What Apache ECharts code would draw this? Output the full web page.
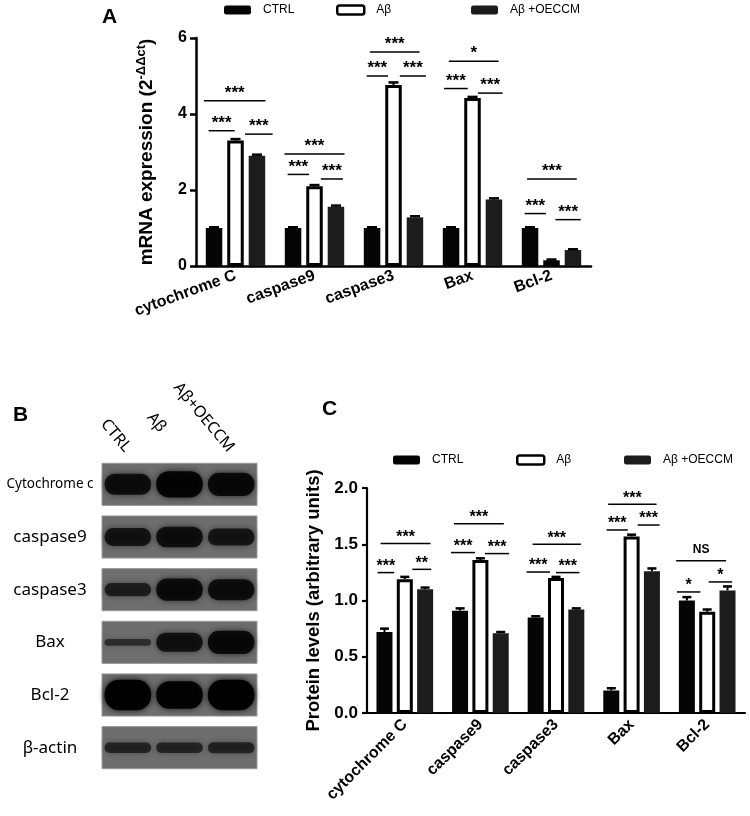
<!DOCTYPE html>
<html>
<head>
<meta charset="utf-8">
<script src="https://cdn.jsdelivr.net/npm/echarts@6/dist/echarts.min.js"></script>
<style>
  html, body { margin: 0; padding: 0; background: #fff; }
  #main { width: 750px; height: 816px; }
</style>
</head>
<body>
<div id="main"></div>
<script>
// categories
const genes = ['cytochrome C', 'caspase9', 'caspase3', 'Bax', 'Bcl-2']
const groups = ['CTRL', 'Aβ', 'Aβ +OECCM']

// panel A - mRNA expression (2^-ΔΔct)
const mrnaCtrl = [1.0, 1.0, 1.0, 1.0, 1.0]
const mrnaAb = [3.30, 2.10, 4.76, 4.42, 0.15]
const mrnaOeccm = [2.90, 1.56, 1.28, 1.75, 0.42]
const mrnaErrCtrl = [0.02, 0.02, 0.02, 0.02, 0.02]
const mrnaErrAb = [0.04, 0.03, 0.07, 0.03, 0.02]
const mrnaErrOeccm = [0.03, 0.03, 0.03, 0.03, 0.02]

// significance lines of panel A: [from, to, height] in category units / axis units
const sigA = [
  [0.10, 0.88, 4.35], [0.16, 0.49, 3.56], [0.62, 0.97, 3.47],
  [1.12, 1.88, 2.95], [1.16, 1.43, 2.41], [1.58, 1.86, 2.29],
  [2.20, 2.83, 5.63], [2.16, 2.43, 5.00], [2.58, 2.91, 5.00],
  [3.20, 3.83, 5.39], [3.14, 3.44, 4.67], [3.57, 3.88, 4.55],
  [4.19, 4.82, 2.29], [4.16, 4.43, 1.38], [4.55, 4.87, 1.22]
]
const sigALabels = [
  '***', '***', '***',
  '***', '***', '***',
  '***', '***', '***',
  '*', '***', '***',
  '***', '***', '***'
]

// panel B - western blot
const lanes = ['CTRL', 'Aβ', 'Aβ+OECCM']
const proteins = ['Cytochrome c', 'caspase9', 'caspase3', 'Bax', 'Bcl-2', 'β-actin']
const bandLevels = [
  [0.60, 0.80, 0.68],
  [0.48, 0.58, 0.45],
  [0.30, 0.65, 0.60],
  [0.06, 0.52, 0.68],
  [0.95, 0.85, 0.95],
  [0.20, 0.20, 0.22]
]

// panel C - protein levels
const protCtrl = [0.72, 0.91, 0.85, 0.20, 1.00]
const protAb = [1.19, 1.36, 1.20, 1.57, 0.90]
const protOeccm = [1.10, 0.71, 0.92, 1.26, 1.09]
const protErrCtrl = [0.03, 0.02, 0.01, 0.02, 0.03]
const protErrAb = [0.02, 0.015, 0.01, 0.015, 0.02]
const protErrOeccm = [0.015, 0.01, 0.01, 0.025, 0.035]

const sigC = [
  [0.18, 0.84, 1.506], [0.14, 0.36, 1.248], [0.60, 0.85, 1.277],
  [1.15, 1.81, 1.683], [1.11, 1.43, 1.426], [1.56, 1.88, 1.417],
  [2.19, 2.83, 1.500], [2.11, 2.42, 1.253], [2.50, 2.81, 1.248],
  [3.19, 3.83, 1.855], [3.17, 3.45, 1.627], [3.58, 3.87, 1.671],
  [4.09, 4.75, 1.354], [4.10, 4.41, 1.076], [4.52, 4.83, 1.165]
]
const sigCLabels = [
  '***', '***', '**',
  '***', '***', '***',
  '***', '***', '***',
  '***', '***', '***',
  'NS', '*', '*'
]

const FONT = 'Liberation Sans, Arial, sans-serif'
const BLOTFONT = 'Noto Sans, Open Sans, sans-serif'

const barColors = ['#050505', '#ffffff', '#1c1c1c']

function barSeries(name, xi, yi, data, colorIdx, width, gap) {
  const s = {
    name: name,
    type: 'bar',
    xAxisIndex: xi,
    yAxisIndex: yi,
    data: data,
    barWidth: width,
    barGap: gap,
    z: 3,
    itemStyle: { color: barColors[colorIdx] }
  }
  if (colorIdx === 1) {
    s.itemStyle.borderColor = '#000'
    s.itemStyle.borderWidth = 3
  }
  return s
}

function errSeries(xi, yi, vals, errs, offsetPx, capW) {
  return {
    type: 'custom',
    xAxisIndex: xi,
    yAxisIndex: yi,
    silent: true,
    z: 4,
    data: vals.map((v, i) => [i, v, errs[i]]),
    renderItem(params, api) {
      const b = api.coord([api.value(0), api.value(1)])
      const t = api.coord([api.value(0), api.value(1) + api.value(2)])
      const x = b[0] + offsetPx
      return {
        type: 'group',
        children: [
          { type: 'line', shape: { x1: x, y1: b[1], x2: x, y2: t[1] }, style: { stroke: '#000', lineWidth: 2 } },
          { type: 'line', shape: { x1: x - capW / 2, y1: t[1], x2: x + capW / 2, y2: t[1] }, style: { stroke: '#000', lineWidth: 2.5 } }
        ]
      }
    }
  }
}

function sigSeries(xi, yi, lines, labels, fontSize, lift) {
  return {
    type: 'custom',
    xAxisIndex: xi,
    yAxisIndex: yi,
    silent: true,
    z: 6,
    data: lines,
    encode: { x: [0, 1], y: 2 },
    renderItem(params, api) {
      const p1 = api.coord([api.value(0), api.value(2)])
      const p2 = api.coord([api.value(1), api.value(2)])
      const txt = labels[params.dataIndex]
      const isNS = txt === 'NS'
      return {
        type: 'group',
        children: [
          { type: 'line', shape: { x1: p1[0], y1: p1[1], x2: p2[0], y2: p1[1] }, style: { stroke: '#000', lineWidth: 1.5 } },
          {
            type: 'text',
            style: {
              text: txt,
              x: (p1[0] + p2[0]) / 2,
              y: p1[1] - (isNS ? 5 : lift),
              align: 'center',
              verticalAlign: 'bottom',
              font: (isNS ? 'bold 12px ' + FONT : 'bold ' + fontSize + 'px ' + FONT),
              fill: '#000'
            }
          }
        ]
      }
    }
  }
}

const blotBoxes = {
  type: 'custom',
  xAxisIndex: 2,
  yAxisIndex: 1,
  silent: true,
  z: 1,
  data: proteins.map((p, r) => [0, r]),
  renderItem(params, api) {
    const cs = params.coordSys
    const cy = api.coord([0, api.value(1)])[1]
    const h = api.size([0, 1])[1] * 0.8
    return {
      type: 'rect',
      shape: { x: cs.x, y: cy - h / 2, width: cs.width, height: h },
      style: { fill: '#6e6e6e', stroke: '#9a9a9a', lineWidth: 1 }
    }
  }
}

const bandData = []
bandLevels.forEach((row, r) => row.forEach((lv, l) => bandData.push([l, r, lv])))

const blotBands = {
  type: 'custom',
  xAxisIndex: 2,
  yAxisIndex: 1,
  silent: true,
  z: 2,
  data: bandData,
  renderItem(params, api) {
    const c = api.coord([api.value(0), api.value(1)])
    const lw = api.size([1, 0])[0]
    const rh = api.size([0, 1])[1]
    const lv = api.value(2)
    const hw = lw * 0.45
    const hh = rh * (0.05 + 0.25 * lv)
    return {
      type: 'rect',
      shape: { x: c[0] - hw, y: c[1] - hh, width: hw * 2, height: hh * 2, r: hh * 0.95 },
      style: {
        fill: 'rgba(0,0,0,' + (0.5 + 0.5 * lv) + ')',
        shadowBlur: 6,
        shadowColor: 'rgba(0,0,0,' + (0.4 + 0.5 * lv) + ')'
      }
    }
  }
}

function legendItem(name, left, top) {
  const idx = groups.indexOf(name)
  const style = { color: barColors[idx] }
  if (idx === 1) { style.borderColor = '#000'; style.borderWidth = 2.5 }
  return {
    data: [{ name: name, itemStyle: style }],
    left: left,
    top: top,
    padding: 0,
    icon: 'roundRect',
    itemWidth: 27,
    itemHeight: 9,
    selectedMode: false,
    textStyle: { fontFamily: FONT, fontSize: 12, color: '#000', padding: [0, 0, 0, 7] }
  }
}

const chart = echarts.init(document.getElementById('main'))
chart.setOption({
  backgroundColor: '#fff',
  animation: false,
  title: [
    { text: 'A', left: 97, top: 2, textStyle: { fontFamily: FONT, fontWeight: 'bold', fontSize: 21, color: '#000' } },
    { text: 'B', left: 8, top: 400, textStyle: { fontFamily: FONT, fontWeight: 'bold', fontSize: 21, color: '#000' } },
    { text: 'C', left: 317, top: 394, textStyle: { fontFamily: FONT, fontWeight: 'bold', fontSize: 21, color: '#000' } }
  ],
  legend: [
    legendItem('CTRL', 224, 4),
    legendItem('Aβ', 336, 4),
    legendItem('Aβ +OECCM', 471, 4),
    legendItem('CTRL', 393, 454),
    legendItem('Aβ', 516, 454),
    legendItem('Aβ +OECCM', 624, 454)
  ],
  grid: [
    { left: 196, right: 159, top: 38, bottom: 550 },
    { left: 102, right: 493, top: 458, bottom: 42 },
    { left: 367, right: 5, top: 488, bottom: 103 }
  ],
  xAxis: [
    {
      type: 'category', gridIndex: 0, data: genes,
      axisLine: { lineStyle: { color: '#000', width: 2.5 } },
      axisTick: { alignWithLabel: true, length: 6, lineStyle: { color: '#000', width: 2.5 } },
      axisLabel: { rotate: 20, margin: 9, color: '#000', fontFamily: FONT, fontWeight: 'bold', fontSize: 16, interval: 0 }
    },
    { type: 'value', gridIndex: 0, min: 0, max: 5, show: false },
    {
      type: 'category', gridIndex: 1, data: lanes, position: 'top',
      axisLine: { show: false }, axisTick: { show: false },
      axisLabel: {
        rotate: 50, margin: 8, color: '#000', fontFamily: BLOTFONT, fontSize: 16, interval: 0,
        formatter: v => (v === 'Aβ' ? '{up|' + v + '}' : v),
        rich: { up: { fontFamily: BLOTFONT, fontSize: 16, color: '#000', padding: [0, 26, 0, 0] } }
      }
    },
    {
      type: 'category', gridIndex: 2, data: genes,
      axisLine: { lineStyle: { color: '#000', width: 2.2 } },
      axisTick: { alignWithLabel: true, length: 6, lineStyle: { color: '#000', width: 2.2 } },
      axisLabel: { rotate: 45, margin: 9, color: '#000', fontFamily: FONT, fontWeight: 'bold', fontSize: 16, interval: 0 }
    },
    { type: 'value', gridIndex: 2, min: 0, max: 5, show: false }
  ],
  yAxis: [
    {
      type: 'value', gridIndex: 0, min: 0, max: 6, interval: 2,
      name: '{n|mRNA expression (2}{s|-ΔΔct}{n|)}',
      nameLocation: 'middle', nameGap: 38,
      nameTextStyle: {
        color: '#000',
        rich: {
          n: { fontFamily: FONT, fontWeight: 'bold', fontSize: 19, color: '#000' },
          s: { fontFamily: FONT, fontWeight: 'bold', fontSize: 13, color: '#000', verticalAlign: 'top', padding: [0, 0, 10, 0] }
        }
      },
      axisLine: { show: true, lineStyle: { color: '#000', width: 2.5 } },
      axisTick: { show: true, length: 6, lineStyle: { color: '#000', width: 2.5 } },
      splitLine: { show: false },
      axisLabel: { color: '#000', fontFamily: FONT, fontWeight: 'bold', fontSize: 16, margin: 9 }
    },
    {
      type: 'category', gridIndex: 1, data: proteins, inverse: true,
      axisLine: { show: false }, axisTick: { show: false },
      axisLabel: {
        align: 'center', margin: 52, color: '#000', interval: 0,
        formatter: v => (v === 'Cytochrome c' ? '{s|' + v + '}' : '{b|' + v + '}'),
        rich: {
          s: { fontFamily: BLOTFONT, fontSize: 13.5, color: '#000' },
          b: { fontFamily: BLOTFONT, fontSize: 17, color: '#000' }
        }
      }
    },
    {
      type: 'value', gridIndex: 2, min: 0, max: 2, interval: 0.5,
      name: 'Protein levels (arbitrary units)',
      nameLocation: 'middle', nameGap: 42,
      nameTextStyle: { color: '#000', fontFamily: FONT, fontWeight: 'bold', fontSize: 18.5 },
      axisLine: { show: true, lineStyle: { color: '#000', width: 2.2 } },
      axisTick: { show: true, length: 5, lineStyle: { color: '#000', width: 2.2 } },
      splitLine: { show: false },
      axisLabel: { color: '#000', fontFamily: FONT, fontWeight: 'bold', fontSize: 17, margin: 9,
        formatter: v => v.toFixed(1) }
    }
  ],
  series: [
    barSeries('CTRL', 0, 0, mrnaCtrl, 0, 16.5, '30%'),
    barSeries('Aβ', 0, 0, mrnaAb, 1, 16.5, '30%'),
    barSeries('Aβ +OECCM', 0, 0, mrnaOeccm, 2, 16.5, '30%'),
    errSeries(0, 0, mrnaCtrl, mrnaErrCtrl, -21.5, 10),
    errSeries(0, 0, mrnaAb, mrnaErrAb, 0, 10),
    errSeries(0, 0, mrnaOeccm, mrnaErrOeccm, 21.5, 10),
    sigSeries(1, 0, sigA, sigALabels, 17, -1),
    blotBoxes,
    blotBands,
    barSeries('CTRL', 3, 2, protCtrl, 0, 16, '27%'),
    barSeries('Aβ', 3, 2, protAb, 1, 16, '27%'),
    barSeries('Aβ +OECCM', 3, 2, protOeccm, 2, 16, '27%'),
    errSeries(3, 2, protCtrl, protErrCtrl, -20.3, 9),
    errSeries(3, 2, protAb, protErrAb, 0, 9),
    errSeries(3, 2, protOeccm, protErrOeccm, 20.3, 9),
    sigSeries(4, 2, sigC, sigCLabels, 16, -2)
  ]
})

window.addEventListener('resize', function () {
  chart && chart.resize()
})
</script>
</body>
</html>
